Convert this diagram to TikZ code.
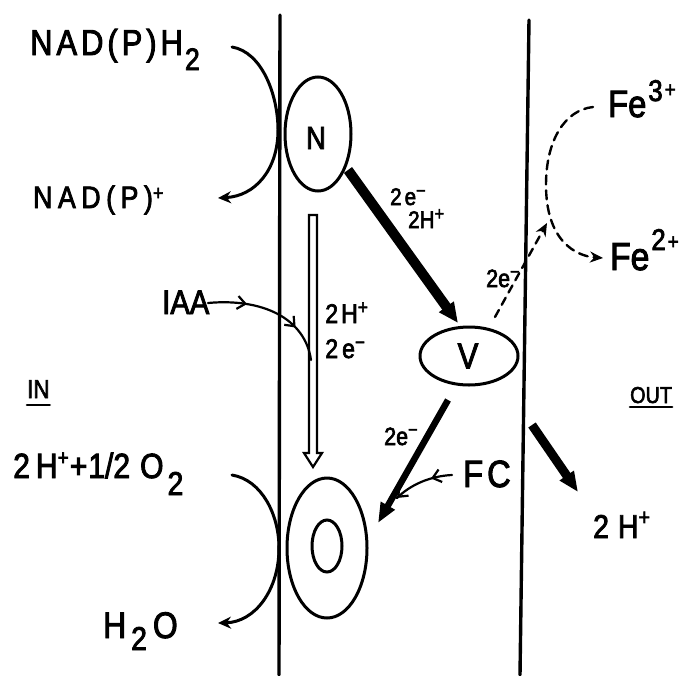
\documentclass[tikz,border=0pt]{standalone}
\usepackage{fontspec}
\setmainfont{Liberation Sans}[FakeStretch=0.86,FakeBold=2.5]
\usetikzlibrary{arrows.meta,decorations.markings,shapes.geometric}
\newcommand\fs[1]{\fontsize{#1}{#1}\selectfont}
\begin{document}
\begin{tikzpicture}[x=1pt,y=-1pt,line cap=round,
  memb/.style={line width=3.4pt},
  lbl/.style={inner sep=0pt,anchor=base west},
  thinln/.style={line width=3pt},
  enz/.style={draw,ellipse,line width=3pt,inner sep=0pt},
  barbs/.style 2 args={decoration={markings,
      mark=at position #1 with {\arrow{Straight Barb[length=8pt,width=13pt,line width=2.2pt]}},
      mark=at position #2 with {\arrow{Straight Barb[length=8pt,width=13pt,line width=2.2pt]}}},
      postaction=decorate},
  stl/.style={-{Stealth[length=13pt,width=12pt]}}
]
\useasboundingbox (0,0) rectangle (685,675);
% membranes
\coordinate (m1t) at (280,15); \coordinate (m1b) at (279,675);
\coordinate (m2t) at (529,20); \coordinate (m2b) at (520,675);
\draw[memb] (m1t) -- (m1b);
\draw[memb] (m2t) -- (m2b);

% enzymes
\node[enz,minimum width=66pt,minimum height=114pt] (N) at (318,134) {};
\node[inner sep=0pt] (Nl) at (316,138) {\fs{32}N};
\node[enz,minimum width=98pt,minimum height=58pt] (V) at (469,356) {};
\node[inner sep=0pt] (Vl) at (468,356) {\fs{36}V};
\node[enz,minimum width=80pt,minimum height=140pt] (O) at (327,548) {};
\node[enz,minimum width=30pt,minimum height=52pt] (Oi) at (327,546) {};

% texts
\node[lbl] (nadph) at (30,55) {\fs{36}\addfontfeature{LetterSpace=11}NAD(P)H\kern2pt\raisebox{-15pt}{\fs{31}2}};
\node[lbl] (nadp) at (33,208) {\fs{31}\addfontfeature{LetterSpace=18}NAD(P)\raisebox{8pt}{\fs{21}+}};
\node[lbl] (iaa) at (162,314) {\fs{34}IAA};
\node[lbl] (in) at (27,398) {\fs{26}IN};
\draw[line width=2.6pt] ([yshift=-7pt]in.base west) -- ([yshift=-7pt]in.base east);
\node[lbl] (out) at (630,403) {\fs{23}OUT};
\draw[line width=2.6pt] ([yshift=-4pt]out.base west) -- ([yshift=-4pt]out.base east);
\node[lbl] (hox) at (13,478) {\fs{35}2\kern6pt H\raisebox{13pt}{\fs{22}+}\kern1pt+\kern1pt1/2\kern10pt O\kern4pt\raisebox{-17pt}{\fs{33}2}};
\node[lbl] (h2o) at (103,638) {\fs{37}H\kern5pt\raisebox{-12pt}{\fs{33}2}\kern6pt O};
\node[lbl] (fc) at (463,487) {\fs{38}F\kern4pt C};
\node[lbl] (hout) at (593,538) {\fs{33}2\kern9pt H\raisebox{13pt}{\fs{23}+}};
\node[lbl] (fe3) at (608,117) {\fs{38}Fe\kern2pt\raisebox{16pt}{\fs{30}3\kern2pt\raisebox{4pt}{\fs{22}+}}};
\node[lbl] (fe2) at (610,270) {\fs{39}Fe\kern2pt\raisebox{20pt}{\fs{30}2\kern2pt\raisebox{1pt}{\fs{22}+}}};
\node[lbl] (l1) at (390,205) {\fs{24}2\kern3pt e\raisebox{8pt}{\fs{19}\char"2212}};
\node[lbl] (l2) at (408,228) {\fs{24}2H\raisebox{8pt}{\fs{19}+}};
\node[lbl] (l3) at (325,323) {\fs{27}2\kern3pt H\raisebox{9pt}{\fs{20}+}};
\node[lbl] (l4) at (325,358) {\fs{27}2\kern4pt e\raisebox{9pt}{\fs{20}\char"2212}};
\node[lbl] (l5) at (486,287) {\fs{25}2e\raisebox{9pt}{\fs{19}\char"2212}};
\node[lbl] (l6) at (384,445) {\fs{25}2e\raisebox{9pt}{\fs{19}\char"2212}};

% NAD arc
\coordinate (a1) at (232,47); \coordinate (a2) at (278,130); \coordinate (a3) at (218,198);
\draw[thinln,stl] (a1) .. controls (262,52) and (278,95) .. (a2) .. controls (278,170) and (255,196) .. (a3);
% O arc
\coordinate (b1) at (232,475); \coordinate (b2) at (279,548); \coordinate (b3) at (218,623);
\draw[thinln,stl] (b1) .. controls (262,480) and (279,515) .. (b2) .. controls (279,590) and (255,622) .. (b3);

% thick arrows
\coordinate (nv1) at (348,170); \coordinate (nv2) at (458,323);
\draw[line width=10pt,line cap=butt,-{Triangle[length=20pt,width=17pt]}] (nv1) -- (nv2);
\coordinate (vo1) at (448,400); \coordinate (vo2) at (378,523);
\draw[line width=6.5pt,line cap=butt,-{Triangle[length=20pt,width=15pt]}] (vo1) -- (vo2);
\coordinate (ho1) at (532,425); \coordinate (ho2) at (578,492);
\draw[line width=9pt,line cap=butt,-{Triangle[length=20pt,width=16pt]}] (ho1) -- (ho2);

% dashed
\coordinate (d1) at (495,317); \coordinate (d2) at (547,223);
\draw[line width=2.4pt,dash pattern=on 8pt off 6pt,-{Stealth[length=13pt,width=11pt]}] (d1) -- (d2);
\coordinate (f1) at (593,107); \coordinate (f2) at (546,185); \coordinate (f3) at (603,258);
\draw[line width=2.4pt,dash pattern=on 9pt off 6pt,-{Stealth[length=13pt,width=11pt]}]
  (f1) .. controls (565,110) and (546,140) .. (f2) .. controls (546,240) and (575,256) .. (f3);

% hollow arrow
\draw[line width=2.2pt,line join=miter] (309,215) -- (317,215) -- (317,453) -- (322,453) -- (313,467) -- (304,453) -- (309,453) -- cycle;

% IAA curve
\coordinate (i1) at (208,303); \coordinate (i2) at (311,360);
\draw[line width=2.2pt,barbs={0.3}{0.72}] (i1) .. controls (262,298) and (305,318) .. (i2);
% FC curve
\coordinate (c1) at (452,475); \coordinate (c2) at (397,498);
\draw[line width=2.2pt,barbs={0.35}{0.999}] (c1) .. controls (430,476) and (410,485) .. (c2);
\end{tikzpicture}
\end{document}
